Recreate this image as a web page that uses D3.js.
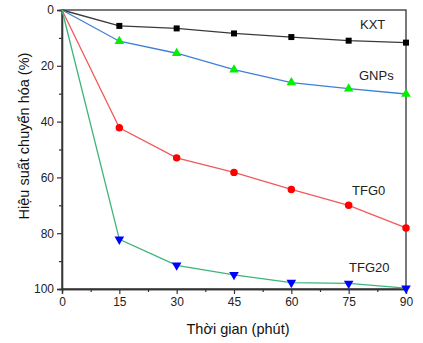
<!DOCTYPE html>
<html>
<head>
<meta charset="utf-8">
<script src="https://cdn.jsdelivr.net/npm/d3@7"></script>
<style>
  body { margin: 0; background: #fff; }
  text { font-family: "Liberation Sans", Arial, sans-serif; }
</style>
</head>
<body>
<div class="content"></div>
<script>
var width = 423
var height = 343

var times = [0, 15, 30, 45, 60, 75, 90]
var kxt = [0, 5.7, 6.6, 8.4, 9.7, 11, 11.7]
var gnps = [0, 11.2, 15.5, 21.4, 26, 28.2, 30.1]
var tfg0 = [0, 42.2, 53, 58.2, 64.3, 70, 78.1]
var tfg20 = [0, 82.2, 91.5, 94.9, 97.7, 98, 99.7]
var xTicks = [0, 15, 30, 45, 60, 75, 90]
var yTicks = [0, 20, 40, 60, 80, 100]

var series = [
    { name: 'KXT', values: kxt, line: '#3a3a3a', fill: '#000000', symbol: d3.symbolSquare, size: 36, lx: 360, ly: 29 },
    { name: 'GNPs', values: gnps, line: '#3f7fd9', fill: '#00f000', symbol: d3.symbolTriangle, size: 40, lx: 359, ly: 80 },
    { name: 'TFG0', values: tfg0, line: '#f05a5a', fill: '#ff0000', symbol: d3.symbolCircle, size: 44, lx: 352, ly: 195 },
    { name: 'TFG20', values: tfg20, line: '#3cb57a', fill: '#0000ff', symbol: d3.symbolTriangle, size: 40, lx: 349, ly: 272, down: true }
]

var margin = { left: 62, top: 10, right: 17, bottom: 54 }

var x = d3.scaleLinear()
    .domain([0, 90])
    .range([margin.left, width - margin.right])

var y = d3.scaleLinear()
    .domain([0, 100])
    .range([margin.top, height - margin.bottom])

var svg = d3.select('.content').append('svg')
    .attr('width', width)
    .attr('height', height)

// frame
svg.append('rect')
    .attr('x', x(0))
    .attr('y', y(0))
    .attr('width', x(90) - x(0))
    .attr('height', y(100) - y(0))
    .style('fill', 'none')
    .style('stroke', '#333')
    .style('stroke-width', 1.3)

// x axis
var xAxis = svg.append('g')
    .attr('transform', 'translate(0,' + y(100) + ')')
    .call(d3.axisBottom(x).tickValues(xTicks).tickSize(5).tickPadding(3))
xAxis.append('g')
    .call(d3.axisBottom(x).tickValues(d3.range(7.5, 90, 15)).tickSize(3).tickFormat(''))
xAxis.selectAll('.domain').style('stroke', '#333').style('stroke-width', 1.3)

// y axis
var yAxis = svg.append('g')
    .attr('transform', 'translate(' + x(0) + ',0)')
    .call(d3.axisLeft(y).tickValues(yTicks).tickSize(5).tickPadding(3))
yAxis.append('g')
    .call(d3.axisLeft(y).tickValues(d3.range(10, 100, 20)).tickSize(3).tickFormat(''))
yAxis.selectAll('.domain').style('stroke', '#333').style('stroke-width', 1.3)

svg.selectAll('.tick line').style('stroke', '#333').style('stroke-width', 1.2)
svg.selectAll('.tick text')
    .style('font-size', '12px')
    .style('fill', '#222')
    .style('font-family', '"Liberation Sans", Arial, sans-serif')

var line = d3.line()
    .x(function(d) { return x(d[0]) })
    .y(function(d) { return y(d[1]) })

series.forEach(function(s) {
    var pts = times.map(function(t, i) { return [t, s.values[i]] })

    svg.append('path')
        .datum(pts)
        .attr('d', line)
        .style('fill', 'none')
        .style('stroke', s.line)
        .style('stroke-width', 1.3)

    svg.append('g')
        .selectAll('path')
        .data(pts.slice(1))
        .enter().append('path')
        .attr('d', d3.symbol().type(s.symbol).size(s.size))
        .attr('transform', function(d) {
            return 'translate(' + x(d[0]) + ',' + y(d[1]) + ')' + (s.down ? ' rotate(180)' : '')
        })
        .style('fill', s.fill)

    svg.append('text')
        .attr('x', s.lx)
        .attr('y', s.ly)
        .style('font-size', '13px')
        .style('fill', '#222')
        .text(s.name)
})

// axis titles
svg.append('text')
    .attr('x', 238)
    .attr('y', 334)
    .attr('text-anchor', 'middle')
    .style('font-size', '14.5px')
    .style('fill', '#111')
    .text('Thời gian (phút)')

svg.append('text')
    .attr('transform', 'translate(29,' + 136 + ') rotate(-90)')
    .attr('text-anchor', 'middle')
    .style('font-size', '14.5px')
    .style('fill', '#111')
    .text('Hiệu suất chuyển hóa (%)')
</script>
</body>
</html>
